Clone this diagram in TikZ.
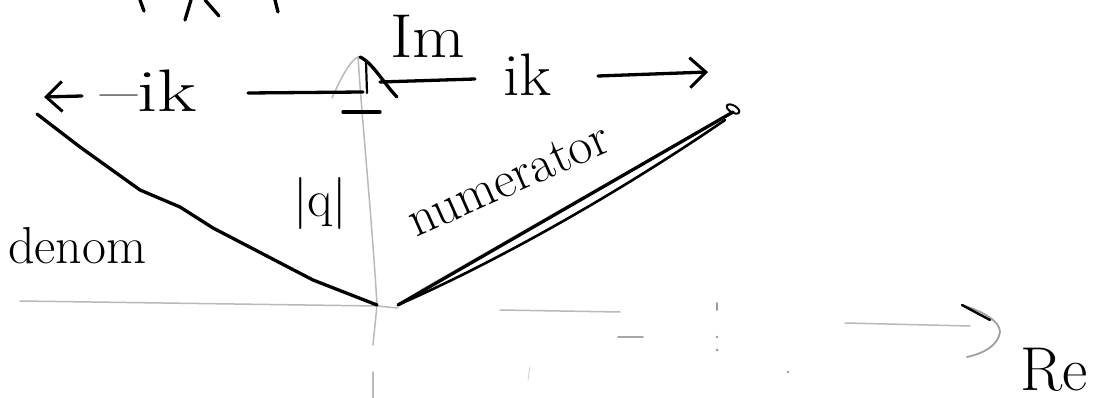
\documentclass[tikz,border=0pt]{standalone}
\usepackage{fontspec}
\usetikzlibrary{arrows.meta}
\begin{document}
\begin{tikzpicture}[x=1pt,y=-1pt,
  ink/.style={line width=3.3pt, line cap=round, line join=round, black},
  thinink/.style={line width=2pt, line cap=round, line join=round, black},
  axisline/.style={line width=1.5pt, gray!55, line cap=round, line join=round},
  faint/.style={line width=1pt, gray!35, line cap=round},
  lbl/.style={inner sep=0pt, text=black, anchor=base west},
  headtip/.style={-{Straight Barb[length=16pt,width=30pt,line width=3pt]}},
]
\useasboundingbox (0,0) rectangle (1102,398);

% cut-off strokes of text at the top edge
\draw[ink] (140,0) -- (144,11);
\draw[ink] (191,0) -- (185,20);
\draw[ink] (205,0) -- (219,16);
\draw[ink] (275,0) -- (278,12);

% imaginary axis (faint, hand-drawn)
\draw[axisline] (332,98) .. controls (340,80) and (350,60) .. (358,57)
  .. controls (362,120) and (372,220) .. (377,305) -- (373,345);
\draw[axisline] (373,372) -- (373,398);
% real axis (faint)
\draw[axisline] (20,301) -- (377,306) -- (398,308);
\draw[axisline] (500,310) -- (620,312);
\draw[axisline, gray!70, line width=1.8pt] (618,337) -- (643,337);
\draw[axisline, gray!80, line width=2pt] (717,303) -- (717,310);
\fill[gray!80] (717,337) circle (1.3) (717,350) circle (1.5) (788,372) circle (1.4);
\draw[faint] (530,367) -- (528,380);
\draw[axisline] (845,323) -- (970,326);
\draw[axisline, gray!75, line width=1.8pt] (962,305) .. controls (985,312) and (1000,322) .. (1000,332)
  .. controls (998,345) and (985,353) .. (967,357);
\draw[ink, line width=2.4pt] (962,305) -- (990,320);

% top line with hump
\draw[ink] (248,93) -- (363,92);
\draw[ink] (360,57) .. controls (372,62) and (385,85) .. (397,97);
\draw[ink, line width=2.2pt] (366,62) -- (367,93);
\draw[ink] (380,82) -- (475,79);
\draw[ink] (343,112) -- (380,112);

% left arrow
\draw[ink, headtip] (82,96) -- (44,97);
% right arrow
\draw[ink, headtip] (598,76) -- (708,72);

% labels
\node[lbl, font=\fontsize{60}{62}\selectfont, xscale=1.35] (mik) at (100,112) {–ik};
\node[lbl, font=\fontsize{62}{64}\selectfont, xscale=1.1] (im) at (390,58) {Im};
\node[lbl, font=\fontsize{60}{62}\selectfont, xscale=1.1] (ik) at (503,96) {ik};
\node[lbl, font=\fontsize{52}{54}\selectfont] (denom) at (8,263) {denom};
\node[lbl, font=\fontsize{52}{54}\selectfont] (q) at (293,216) {|q|};
\node[lbl, font=\fontsize{52}{54}\selectfont, rotate=24] (num) at (416,238) {numerator};
\node[lbl, font=\fontsize{62}{64}\selectfont] (re) at (1020,390) {Re};

% denominator curve
\draw[ink] (37,114) -- (80,147) -- (140,190) -- (180,207) -- (213,228)
  -- (313,280) -- (377,305);

% numerator line (double stroke)
\draw[faint] (420,290) -- (700,130);
\draw[ink] (398,305) -- (733,112);
\draw[ink, line width=2.6pt] (400,304) .. controls (500,260) and (620,192) .. (725,120);
\draw[thinink] (733,109) ellipse [x radius=7, y radius=3.5, rotate=-30];
\end{tikzpicture}
\end{document}
